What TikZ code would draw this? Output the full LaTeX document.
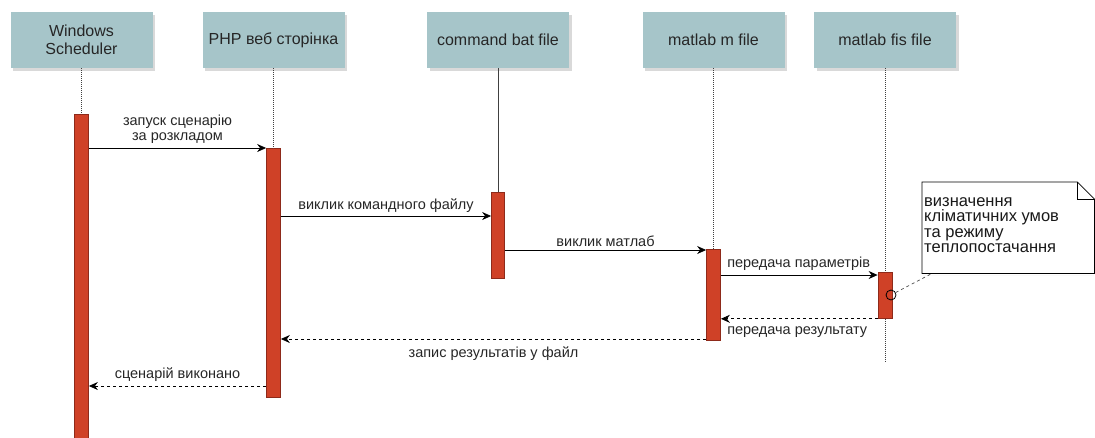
\documentclass[tikz,border=0pt]{standalone}
\usepackage{fontspec}
\setmainfont{Liberation Sans}
\usetikzlibrary{arrows.meta}
\usetikzlibrary{shadows}
\definecolor{headfill}{HTML}{A6C5C9}
\definecolor{actfill}{HTML}{CF4127}
\definecolor{actdraw}{HTML}{8E2A1A}
\tikzset{
    head/.style={fill=headfill,minimum width=142pt,minimum height=56pt,align=center,
        font=\fontsize{16}{18}\selectfont,text=black!85,
        drop shadow={shadow xshift=2.5pt,shadow yshift=-2.5pt,fill=black!25,opacity=0.6}},
    act/.style={fill=actfill,draw=actdraw,line width=0.8pt,minimum width=14pt,anchor=north,inner sep=0pt},
    life/.style={densely dotted,line width=1pt,black!75},
    msg/.style={-{Stealth[length=9pt,width=8pt,inset=3pt]},line width=0.7pt},
    ret/.style={msg,dashed,dash pattern=on 3pt off 3pt},
    lbl/.style={font=\fontsize{14.5}{15}\selectfont,text=black!85,inner sep=1pt},
}

\begin{document}
\begin{tikzpicture}[x=1pt,y=-1pt]
\useasboundingbox (0,0) rectangle (1095,437);
% lifeline heads
\node[head] (ws)  at (81.5,40)  {Windows\\Scheduler};
\node[head] (php) at (273.5,40) {PHP веб сторінка};
\node[head] (bat) at (498,40)   {command bat file};
\node[head] (mf)  at (713.5,40) {matlab m file};
\node[head] (fis) at (885,40)   {matlab fis file};
% activations
\node[act,minimum height=330pt] (wsA)  at (81.5,114) {};
\node[act,minimum height=249pt] (phpA) at (273.5,148) {};
\node[act,minimum height=86pt,minimum width=13pt] (batA) at (498,192) {};
\node[act,minimum height=91pt] (mA)   at (713.5,249) {};
\node[act,minimum height=46pt] (fisA) at (885,272) {};
% lifelines
\draw[life] (ws.south) -- (wsA.north);
\draw[life] (php.south) -- (phpA.north);
\draw[line width=0.8pt,black!75] (bat.south) -- (batA.north);
\draw[life] (mf.south) -- (mA.north);
\draw[life] (fis.south) -- (fisA.north);
\coordinate (fisEnd) at (885,362);
\draw[life] (fisA.south) -- (fisEnd);
% messages
\draw[msg] (wsA.east |- phpA.north) -- (phpA.north west)
    node[lbl,midway,above=3pt,align=center] {запуск сценарію\\за розкладом};
\draw[msg] (phpA.east |- 0,216) -- (batA.west |- 0,216)
    node[lbl,midway,above=2pt] {виклик командного файлу};
\draw[msg] (batA.east |- 0,250) -- (mA.west |- 0,250)
    node[lbl,midway,above=2pt] {виклик матлаб};
\draw[msg] (mA.east |- 0,275) -- (fisA.west |- 0,275)
    node[lbl,pos=0,above=3pt,anchor=south west,xshift=5pt] {передача параметрів};
\draw[ret] (fisA.south west) -- (mA.east |- fisA.south)
    node[lbl,pos=1,below=7pt,anchor=north west,xshift=5pt] {передача результату};
\draw[ret] (mA.west |- 0,339) -- (phpA.east |- 0,339)
    node[lbl,midway,below=6pt] {запис результатів у файл};
\draw[ret] (phpA.west |- 0,386) -- (wsA.east |- 0,386)
    node[lbl,midway,above=3pt] {сценарій виконано};
% note with folded corner
\node[anchor=north west,inner sep=0pt,minimum width=172pt,minimum height=91pt] (note) at (922,182) {};
\fill[black!20] ([xshift=1pt,yshift=-1.5pt]note.south west) rectangle ([yshift=-1.5pt]note.south east);
\draw[line width=0.8pt,fill=white] (note.south west) -- (note.north west) -- ([xshift=-17pt]note.north east)
    -- ([yshift=-17pt]note.north east) -- (note.south east) -- cycle;
\draw[line width=0.8pt] ([xshift=-17pt]note.north east) -- ([xshift=-17pt,yshift=-17pt]note.north east)
    -- ([yshift=-17pt]note.north east);
\node[anchor=north west,align=left,inner sep=0pt,font=\fontsize{16.5}{15.5}\selectfont,text=black!90] (noteText) at (924,197)
    {визначення\\кліматичних умов\\та режиму\\теплопостачання};
% anchor of the note
\node[circle,draw,line width=0.8pt,minimum size=10pt,inner sep=0pt] (hook) at (891,295) {};
\draw[dashed,line width=0.7pt,black!70] (hook) -- ([xshift=10pt]note.south west);
\end{tikzpicture}
\end{document}
